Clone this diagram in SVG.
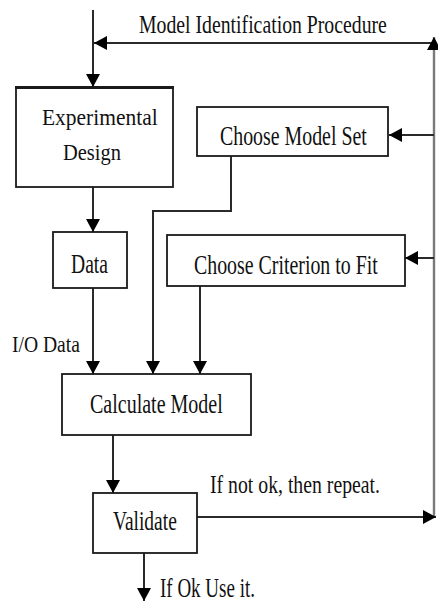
<svg xmlns="http://www.w3.org/2000/svg" width="438" height="603" viewBox="0 0 438 603">
  <style>
    .box { fill: #ffffff; stroke: #1a1a1a; stroke-width: 1.8; }
    .lbl { font-family: "Liberation Serif", "Times New Roman", serif; fill: #111111; }
    .wire { fill: none; stroke: #2a2a2a; stroke-width: 2; }
    .rail { fill: none; stroke: #7a7a7a; stroke-width: 2.4; }
  </style>
  <defs>
    <marker id="arrow" markerUnits="userSpaceOnUse" markerWidth="16" markerHeight="16" refX="14" refY="8" orient="auto">
      <path d="M1,1 L14,8 L1,15 Z" fill="#000000"/>
    </marker>
  </defs>
  <rect width="438" height="603" fill="#ffffff"/>

  <!-- connectors -->
  <g id="connectors">
    <line class="wire" x1="93" y1="10" x2="93" y2="87" marker-end="url(#arrow)"/>
    <line class="wire" x1="434" y1="43" x2="94" y2="43" marker-end="url(#arrow)"/>
    <line class="rail" x1="434" y1="517" x2="434" y2="37" marker-end="url(#arrow)"/>
    <line class="wire" x1="434" y1="135" x2="389" y2="135" marker-end="url(#arrow)"/>
    <line class="wire" x1="434" y1="258" x2="405" y2="258" marker-end="url(#arrow)"/>
    <line class="wire" x1="93" y1="187" x2="93" y2="232" marker-end="url(#arrow)"/>
    <line class="wire" x1="93" y1="288" x2="93" y2="374" marker-end="url(#arrow)"/>
    <polyline class="wire" points="231,156 231,211 153,211 153,374" marker-end="url(#arrow)"/>
    <line class="wire" x1="200" y1="286" x2="200" y2="374" marker-end="url(#arrow)"/>
    <line class="wire" x1="113" y1="435" x2="113" y2="493" marker-end="url(#arrow)"/>
    <line class="wire" x1="197" y1="517" x2="436" y2="517" marker-end="url(#arrow)"/>
    <line class="wire" x1="144" y1="553" x2="144" y2="601" marker-end="url(#arrow)"/>
  </g>

  <!-- free labels (narrow serif: horizontal scale on each line) -->
  <text class="lbl" font-size="26" transform="translate(139,33) scale(0.76,1)">Model Identification Procedure</text>
  <text class="lbl" font-size="24" transform="translate(12,352) scale(0.816,1)">I/O Data</text>
  <text class="lbl" font-size="26" transform="translate(210,493) scale(0.76,1)">If not ok, then repeat.</text>
  <text class="lbl" font-size="27" transform="translate(160,597) scale(0.704,1)">If Ok Use it.</text>

  <!-- nodes -->
  <g id="experimental-design">
    <rect class="box" x="16" y="87" width="157" height="100"/>
    <line x1="15" y1="87.5" x2="174" y2="87.5" stroke="#1a1a1a" stroke-width="3"/>
    <text class="lbl" font-size="24" transform="translate(42,125) scale(0.895,1)">Experimental</text>
    <text class="lbl" font-size="24" transform="translate(63,160) scale(0.853,1)">Design</text>
  </g>
  <g id="choose-model-set">
    <rect class="box" x="197" y="107" width="191" height="49"/>
    <text class="lbl" font-size="28" transform="translate(220,145) scale(0.71,1)">Choose Model Set</text>
  </g>
  <g id="data">
    <rect class="box" x="53" y="232" width="74" height="56"/>
    <text class="lbl" font-size="28" transform="translate(71,273) scale(0.70,1)">Data</text>
  </g>
  <g id="choose-criterion">
    <rect class="box" x="167" y="235" width="238" height="51"/>
    <text class="lbl" font-size="28" transform="translate(194,274) scale(0.71,1)">Choose Criterion to Fit</text>
  </g>
  <g id="calculate-model">
    <rect class="box" x="62" y="374" width="189" height="61"/>
    <text class="lbl" font-size="28" transform="translate(90,413) scale(0.715,1)">Calculate Model</text>
  </g>
  <g id="validate">
    <rect class="box" x="93" y="493" width="104" height="60"/>
    <text class="lbl" font-size="28" transform="translate(113,530) scale(0.696,1)">Validate</text>
  </g>
</svg>
